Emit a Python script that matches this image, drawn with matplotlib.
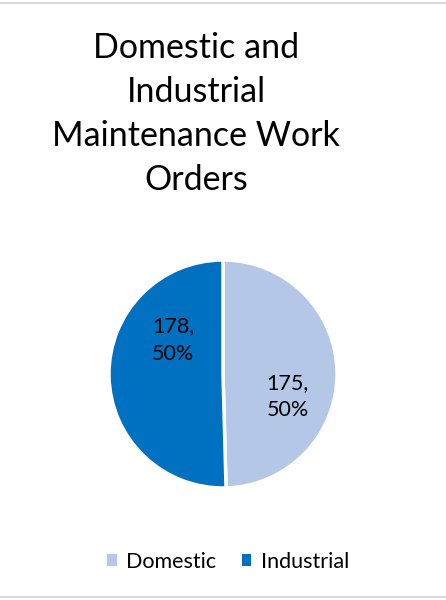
import numpy as np
import matplotlib.pyplot as plt
from matplotlib.lines import Line2D
from matplotlib.patches import Patch

# data
categories = ['Domestic', 'Industrial']
orders = [175, 178]
colors = ['#B4C7E7', '#0070C0']
title = 'Domestic and\nIndustrial\nMaintenance Work\nOrders'

plt.rcParams['font.family'] = ['Lato', 'DejaVu Sans']

fig = plt.figure(figsize=(4.46, 6), dpi=100)

# chart border lines (top / bottom)
fig.add_artist(Line2D([0, 1], [0.995, 0.995], color='#D9D9D9', lw=1.5))
fig.add_artist(Line2D([0, 1], [0.005, 0.005], color='#D9D9D9', lw=1.5))

fig.text(0.44, 0.81, title, ha='center', va='center', fontsize=24.5,
         linespacing=1.45, color='#000000')

ax = fig.add_axes([0.2444, 0.1867, 0.5112, 0.38])
wedges, _ = ax.pie(orders, colors=colors, startangle=90, counterclock=False,
                   wedgeprops=dict(edgecolor='white', linewidth=2.5))
ax.set_xlim(-1.0, 1.0)
ax.set_ylim(-1.0, 1.0)
ax.set_aspect('equal')

total = sum(orders)
# label placement: shifted a little clockwise from the wedge middle, like Excel's best fit
shifts = [-20, -35]
dists = [0.6, 0.53]
for w, v, s, d in zip(wedges, orders, shifts, dists):
    mid = np.deg2rad((w.theta1 + w.theta2) / 2 + s)
    ax.text(d * np.cos(mid), d * np.sin(mid), f'{v},\n{v / total:.0%}',
            ha='center', va='center', fontsize=15.5, linespacing=1.45)

handles = [Patch(facecolor=c, edgecolor='none') for c in colors]
fig.legend(handles, categories, loc='center', bbox_to_anchor=(0.512, 0.064),
           ncol=2, frameon=False, fontsize=15.5, handlelength=0.43, handleheight=0.43,
           handletextpad=0.45, columnspacing=1.2)

fig.savefig('out.png', dpi=100)
